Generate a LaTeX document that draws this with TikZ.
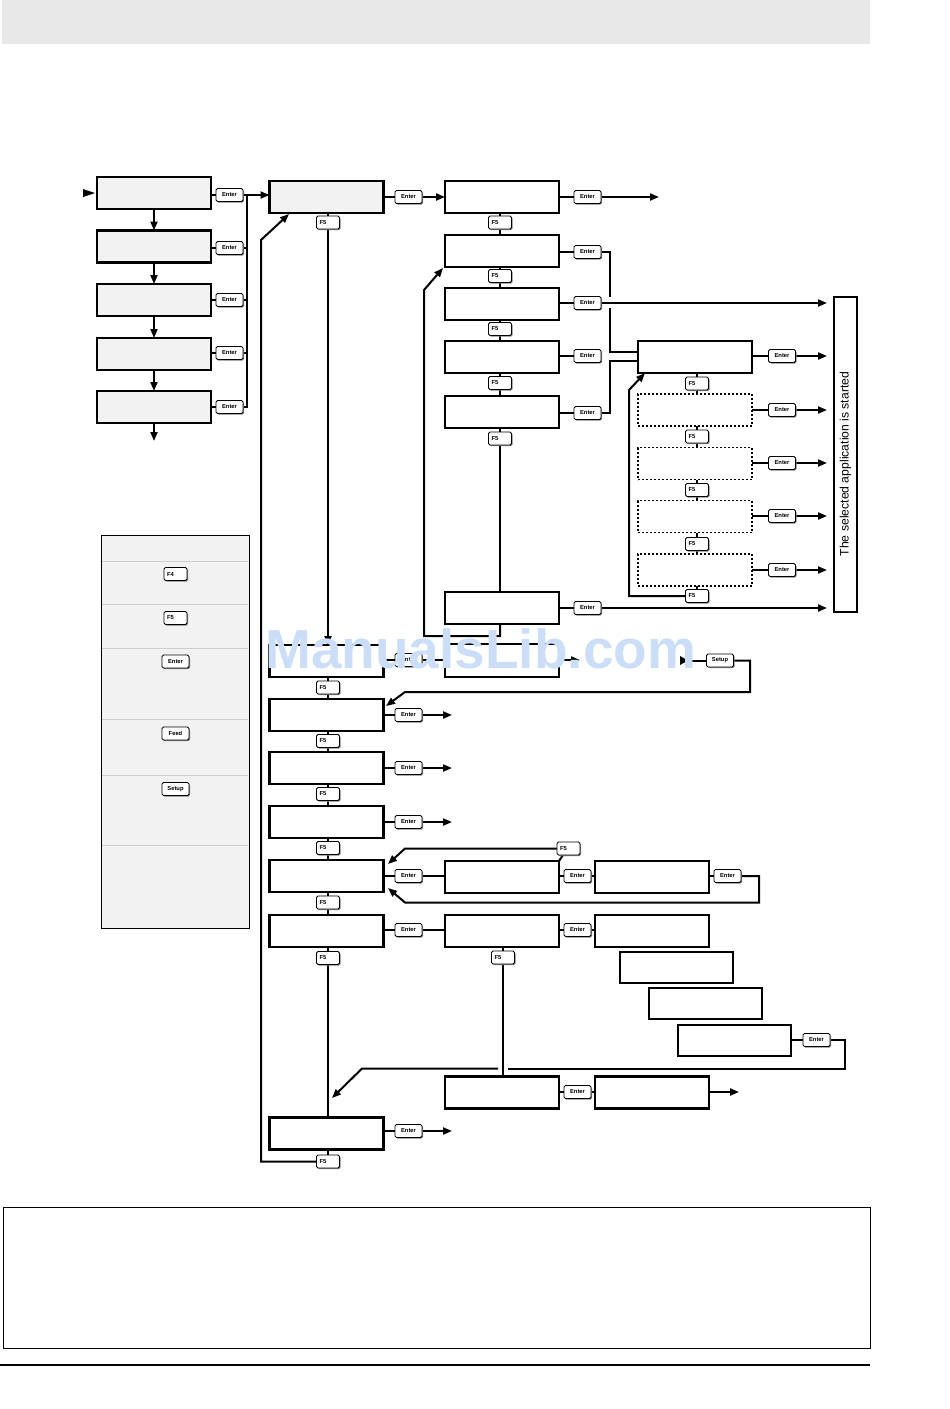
\documentclass[tikz,border=0pt]{standalone}
\usepackage{fontspec}
\setmainfont{Liberation Sans}
\usetikzlibrary{arrows.meta,backgrounds,shadows}
\definecolor{boxgray}{RGB}{242,242,242}
\definecolor{bannergray}{RGB}{232,232,232}
\definecolor{wmblue}{RGB}{204,222,247}
\definecolor{sepgray}{RGB}{205,205,205}
\tikzset{
 scr/.style={draw, line width=2.2pt, fill=white, minimum width=114pt, minimum height=32pt, inner sep=0pt, outer sep=0pt},
 scrg/.style={scr, fill=boxgray},
 scrd/.style={scr, line width=1.8pt, dash pattern=on 2pt off 2pt},
 keyb/.style={draw, line width=0.9pt, rounded corners=1.5pt, fill=white, minimum height=13pt, inner sep=0pt, outer sep=0pt,
   font=\fontsize{5.8}{6}\selectfont\bfseries,
   drop shadow={shadow xshift=1pt, shadow yshift=-1pt, fill=black!50, opacity=1}},
 kent/.style={keyb, minimum width=27pt},
 kf/.style={keyb, minimum width=23pt},
 conn/.style={line width=2pt},
 arr/.style={conn, -{Triangle[length=9pt,width=7pt]}},
}
\newcommand{\fkey}[1]{\makebox[17pt][l]{#1}}
\begin{document}
\begin{tikzpicture}[x=1pt,y=-1pt]
\useasboundingbox (0,0) rectangle (950,1409);
% page furniture
\fill[bannergray] (2,0) rectangle (870,44);
\draw[line width=1pt] (3,1207) rectangle (870,1348);
\draw[line width=1.2pt] (0,1365) -- (870,1365);

% legend
\node[draw, line width=0.8pt, fill=boxgray, minimum width=148pt, minimum height=393pt, inner sep=0pt] (leg) at (175,731.5) {};
\foreach \yy in {561,604,648,719,775,845} \draw[sepgray, line width=0.8pt] (102,\yy) -- (248,\yy);
\node[kf] (lgF4) at (175.5,574) {\fkey{F4}};
\node[kf] (lgF5) at (175.5,618) {\fkey{F5}};
\node[kent] (lgEnt) at (175.5,661.5) {Enter};
\node[kent] (lgFeed) at (175.5,733.5) {Feed};
\node[kent] (lgSet) at (175.5,789) {Setup};

% left column
\node[scrg] (L1) at (154,193) {};
\node[scrg] (L2) at (154,246.5) {};
\node[scrg] (L3) at (154,300) {};
\node[scrg] (L4) at (154,354) {};
\node[scrg] (L5) at (154,407) {};
\node[kent] (kL1) at (229.5,195) {Enter};
\node[kent] (kL2) at (229.5,248) {Enter};
\node[kent] (kL3) at (229.5,300) {Enter};
\node[kent] (kL4) at (229.5,353) {Enter};
\node[kent] (kL5) at (229.5,407) {Enter};
\coordinate (busT) at (247,195);
\coordinate (busB) at (247,407);
\coordinate (L5out) at (154,441);
\fill (83,189) -- (95,193) -- (83,197) -- cycle;

% middle column
\node[scrg] (M1) at (326.5,197) {};
\node[kent] (kM1) at (408.5,197) {Enter};
\node[kf] (fM1) at (328,222.5) {\fkey{F5}};
\node[scr] (M6) at (326.5,661) {};
\node[kent] (kM6) at (408.5,660) {Enter};
\node[kf] (fM6) at (328,687.5) {\fkey{F5}};
\node[scr] (M7) at (326.5,715) {};
\node[kent] (kM7) at (408.5,715) {Enter};
\node[kf] (fM7) at (328,741) {\fkey{F5}};
\node[scr] (M8) at (326.5,768) {};
\node[kent] (kM8) at (408.5,768) {Enter};
\node[kf] (fM8) at (328,794) {\fkey{F5}};
\node[scr] (M9) at (326.5,822) {};
\node[kent] (kM9) at (408.5,822) {Enter};
\node[kf] (fM9) at (328,848) {\fkey{F5}};
\node[scr] (M10) at (326.5,876) {};
\node[kent] (kM10) at (408.5,876) {Enter};
\node[kf] (fM10) at (328,902.5) {\fkey{F5}};
\node[scr] (M11) at (326.5,931) {};
\node[kent] (kM11) at (408.5,930) {Enter};
\node[kf] (fM11) at (328,958) {\fkey{F5}};
\node[scr] (M12) at (326.5,1133.5) {};
\node[kent] (kM12) at (408.5,1131) {Enter};
\node[kf] (fM12) at (328,1161.5) {\fkey{F5}};

% T column
\node[scr] (T1) at (502,197) {};
\node[kent] (kT1) at (587.5,197) {Enter};
\node[kf] (fT1) at (500,222.5) {\fkey{F5}};
\node[scr] (T2) at (502,251) {};
\node[kent] (kT2) at (587.5,252) {Enter};
\node[kf] (fT2) at (500,276) {\fkey{F5}};
\node[scr] (T3) at (502,304) {};
\node[kent] (kT3) at (587.5,303) {Enter};
\node[kf] (fT3) at (500,329) {\fkey{F5}};
\node[scr] (T4) at (502,357) {};
\node[kent] (kT4) at (587.5,356) {Enter};
\node[kf] (fT4) at (500,383) {\fkey{F5}};
\node[scr] (T5) at (502,412) {};
\node[kent] (kT5) at (587.5,413) {Enter};
\node[kf] (fT5) at (500,438.5) {\fkey{F5}};
\node[scr] (T6) at (502,608) {};
\node[kent] (kT6) at (587.5,608) {Enter};
\node[scr, minimum height=33pt] (T7) at (502,660.5) {};

% R column
\node[scr] (R1) at (695,357) {};
\node[kent] (kR1) at (782,356) {Enter};
\node[kf] (fR1) at (697,383.5) {\fkey{F5}};
\node[scrd] (R2) at (695,410) {};
\node[kent] (kR2) at (782,410) {Enter};
\node[kf] (fR2) at (697,436.5) {\fkey{F5}};
\node[scrd] (R3) at (695,463.5) {};
\node[kent] (kR3) at (782,463) {Enter};
\node[kf] (fR3) at (697,490) {\fkey{F5}};
\node[scrd] (R4) at (695,516.5) {};
\node[kent] (kR4) at (782,516) {Enter};
\node[kf] (fR4) at (697,544) {\fkey{F5}};
\node[scrd] (R5) at (695,570) {};
\node[kent] (kR5) at (782,570) {Enter};
\node[kf] (fR5) at (697,596) {\fkey{F5}};
\node[draw, line width=2pt, minimum width=23pt, minimum height=315pt, inner sep=0pt] (app) at (845.5,454.5) {};
\node[rotate=90, font=\fontsize{12.2}{12}\selectfont] (apptxt) at (845.5,464) {The selected application is started};

% setup
\node[kent] (kSet) at (720,660.5) {Setup};
\fill (680,656) -- (688,660.5) -- (680,665) -- cycle;

% lower boxes
\node[scr] (B1) at (502,877) {};
\node[kent] (kB1) at (577.5,876) {Enter};
\node[scr] (B2) at (652,877) {};
\node[kent] (kB2) at (727.5,876) {Enter};
\node[kf] (fB1) at (568.5,848.5) {\fkey{F5}};
\node[scr] (B3) at (502,931) {};
\node[kent] (kB3) at (577.5,930) {Enter};
\node[scr] (B4) at (652,931) {};
\node[kf] (fB3) at (503,957.5) {\fkey{F5}};
\node[scr, minimum width=113pt, minimum height=31pt] (B5) at (676.5,967.5) {};
\node[scr, minimum width=113pt, minimum height=31pt] (B6) at (705.5,1003.5) {};
\node[scr, minimum width=113pt, minimum height=31pt] (B7) at (734.5,1040.5) {};
\node[kent] (kB7) at (816.5,1040) {Enter};
\node[scr] (B8) at (502,1092.5) {};
\node[kent] (kB8) at (577.5,1092) {Enter};
\node[scr] (B9) at (652,1092.5) {};

\coordinate (ax) at (827,0);
\coordinate (mx) at (452,0);

\begin{scope}[on background layer]
% left column
\foreach \a/\b in {L1/L2,L2/L3,L3/L4,L4/L5} \draw[arr] (\a) -- (\b);
\draw[arr] (L5.south) -- (L5out);
\foreach \n in {1,...,5} \draw[conn] (L\n.east |- kL\n) -- (kL\n.west);
\draw[conn] (kL1.east) -- (busT) -- (busB) -- (kL5.east);
\foreach \n in {2,3,4} \draw[conn] (kL\n.east) -- (kL\n.east -| busT);
\draw[arr] (kL1.east) -- (kL1.east -| M1.west);
% M1 and T1
\draw[conn] (M1.east |- kM1) -- (kM1.west);
\draw[arr] (kM1.east) -- (kM1.east -| T1.west);
\draw[conn] (T1.east |- kT1) -- (kT1.west);
\draw[arr] (kT1.east) -- (659,197);
\draw[arr] (M1.south -| fM1) -- (M6.north -| fM1);
% T column
\foreach \a/\b/\k in {T1/T2/fT1,T2/T3/fT2,T3/T4/fT3,T4/T5/fT4,T5/T6/fT5} \draw[conn] (\a.south -| \k) -- (\b.north -| \k);
\foreach \n in {2,3,4,5,6} \draw[conn] (T\n.east |- kT\n) -- (kT\n.west);
\draw[arr] (T6.south -| fT5) -- (500,636) -- (424,636) -- (424,290) -- (443,268);
\draw[conn] (kT2.east) -- (610,252) -- (610,297);
\draw[conn] (610,308) -- (610,352) -- (R1.west |- 0,352);
\draw[conn] (kT5.east) -- (610,413) -- (610,361) -- (R1.west |- 0,361);
\draw[arr] (kT3.east) -- (kT3.east -| ax);
\draw[arr] (kT6.east) -- (kT6.east -| ax);
% R column
\foreach \a/\b/\k in {R1/R2/fR1,R2/R3/fR2,R3/R4/fR3,R4/R5/fR4} \draw[conn] (\a.south -| \k) -- (\b.north -| \k);
\draw[conn] (R5.south -| fR5) -- (fR5);
\foreach \n in {1,...,5} {\draw[conn] (R\n.east |- kR\n) -- (kR\n.west); \draw[arr] (kR\n.east) -- (kR\n.east -| ax);}
\draw[arr] (fR5.west) -- (629,596) -- (629,390) -- (645,373);
% M6 row
\draw[conn] (M6.east |- kM6) -- (kM6.west);
\draw[conn] (kM6.east) -- (kM6.east -| T7.west);
\draw[arr] (T7.east |- kM6) -- (580,660);
\draw[conn] (688,660.5) -- (kSet.west);
\draw[arr] (kSet.east) -- (750,660.5) -- (750,692) -- (405,692) -- (386,706);
% M column
\foreach \a/\b/\k in {M6/M7/fM6,M7/M8/fM7,M8/M9/fM8,M9/M10/fM9,M10/M11/fM10,M11/M12/fM11} \draw[conn] (\a.south -| \k) -- (\b.north -| \k);
\draw[conn] (M12.south -| fM12) -- (fM12);
\foreach \n in {7,8,9,10,11,12} \draw[conn] (M\n.east |- kM\n) -- (kM\n.west);
\foreach \n in {7,8,9,12} \draw[arr] (kM\n.east) -- (kM\n.east -| mx);
\draw[arr] (fM12.west) -- (261,1161.5) -- (261,240) -- (289,214);
% M10 row
\draw[conn] (kM10.east) -- (kM10.east -| B1.west);
\draw[conn] (B1.east |- kB1) -- (kB1.west);
\draw[conn] (kB1.east) -- (kB1.east -| B2.west);
\draw[conn] (B2.east |- kB2) -- (kB2.west);
\draw[arr] (kB2.east) -- (759,876) -- (759,902.5) -- (405,902.5) -- (388,888);
\draw[conn] (B1.north east) -- (563,855);
\draw[arr] (fB1.west) -- (405,848.5) -- (388,864);
% M11 row
\draw[conn] (kM11.east) -- (kM11.east -| B3.west);
\draw[conn] (B3.east |- kB3) -- (kB3.west);
\draw[conn] (kB3.east) -- (kB3.east -| B4.west);
\draw[conn] (B3.south -| fB3) -- (B8.north -| fB3);
\draw[conn] (B7.east |- kB7) -- (kB7.west);
\draw[conn] (kB7.east) -- (845,1040) -- (845,1068.5) -- (508,1068.5);
\draw[arr] (498,1068.5) -- (362,1068.5) -- (332,1098);
\draw[conn] (B8.east |- kB8) -- (kB8.west);
\draw[conn] (kB8.east) -- (kB8.east -| B9.west);
\draw[arr] (B9.east |- kB8) -- (739,1092);
\end{scope}

% watermark
\node[anchor=base west, inner sep=0pt, text=wmblue, font=\fontsize{55}{55}\selectfont\bfseries] (wm) at (265,668) {ManualsLib.com};
\end{tikzpicture}
\end{document}
